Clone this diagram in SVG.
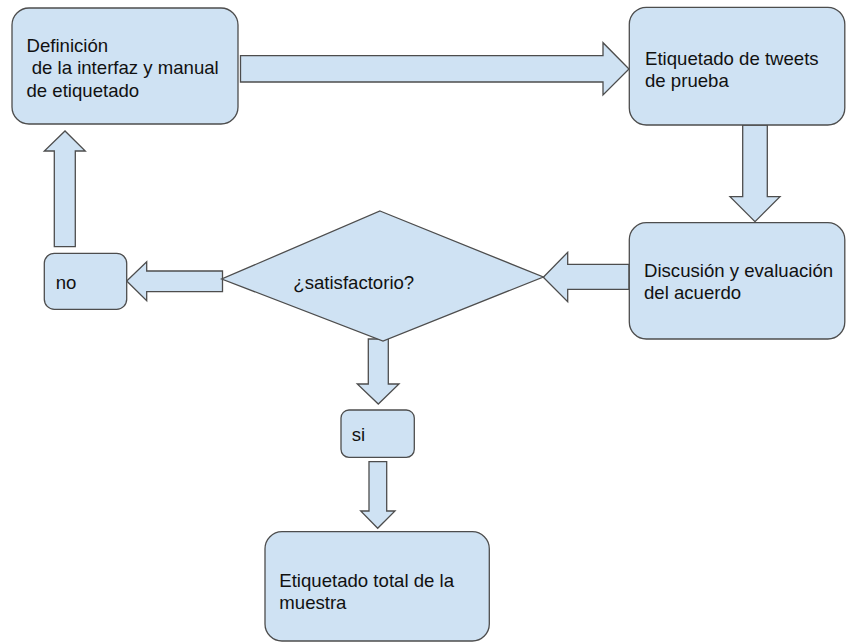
<svg xmlns="http://www.w3.org/2000/svg" width="846" height="644" viewBox="0 0 846 644">
<style>
.shape{fill:#cfe2f3;stroke:#4d4d4d;stroke-width:1.3;stroke-linejoin:miter}
.lbl{font-family:"Liberation Sans",Arial,sans-serif;font-size:18.6px;fill:#111111}
</style>
<rect width="846" height="644" fill="#ffffff"/>
<g id="connectors">
<polygon class="shape" points="240.5,55.7 603,55.7 603,42.7 629,69 603,95 603,82 240.5,82"/>
<polygon class="shape" points="742.7,125 767.3,125 767.3,196.7 780,196.7 755,221.7 730,196.7 742.7,196.7"/>
<polygon class="shape" points="629,264.3 567.7,264.3 567.7,252.3 543.3,277.3 567.7,301.7 567.7,289.3 629,289.3"/>
<polygon class="shape" points="222.5,271 146.7,271 146.7,261.7 126.7,281 146.7,300.7 146.7,291.7 222.5,291.7"/>
<polygon class="shape" points="54.3,246.7 75.3,246.7 75.3,151 85.3,151 65,131 44.3,151 54.3,151"/>
<polygon class="shape" points="368.3,339 388.3,339 388.3,384 399,384 378.3,404 357.3,384 368.3,384"/>
<polygon class="shape" points="369,461.7 386.7,461.7 386.7,511 395,511 377.7,528.3 360.7,511 369,511"/>
</g>
<g id="node-definicion">
<rect class="shape" x="12" y="8" width="226" height="116" rx="17"/>
<text class="lbl" x="26.5" y="52">Definición</text>
<text class="lbl" x="26.5" y="74" xml:space="preserve"> de la interfaz y manual</text>
<text class="lbl" x="26.5" y="96.5">de etiquetado</text>
</g>
<g id="node-etiquetado-prueba">
<rect class="shape" x="629.3" y="7.3" width="215.5" height="117.7" rx="17"/>
<text class="lbl" x="645" y="65">Etiquetado de tweets</text>
<text class="lbl" x="645" y="87">de prueba</text>
</g>
<g id="node-discusion">
<rect class="shape" x="629.3" y="222.7" width="215.5" height="116.3" rx="17"/>
<text class="lbl" x="644" y="277">Discusión y evaluación</text>
<text class="lbl" x="644" y="299">del acuerdo</text>
</g>
<g id="node-satisfactorio">
<polygon class="shape" points="380,211 543.3,277 383,341 221.7,279"/>
<text class="lbl" x="293.3" y="289">¿satisfactorio?</text>
</g>
<g id="node-no">
<rect class="shape" x="44.3" y="253.3" width="82.4" height="56" rx="10"/>
<text class="lbl" x="55.7" y="288.5">no</text>
</g>
<g id="node-si">
<rect class="shape" x="341" y="410" width="73.3" height="47.3" rx="8"/>
<text class="lbl" x="351.7" y="441">si</text>
</g>
<g id="node-total">
<rect class="shape" x="265" y="531.7" width="224.3" height="109.3" rx="17"/>
<text class="lbl" x="279.3" y="587">Etiquetado total de la</text>
<text class="lbl" x="279.3" y="609">muestra</text>
</g>
</svg>
